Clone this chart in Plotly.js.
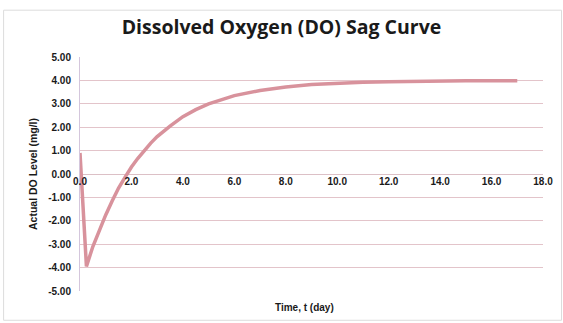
<!DOCTYPE html>
<html>
<head>
<meta charset="utf-8">
<script src="https://cdn.plot.ly/plotly-3.0.1.min.js"></script>
<style>html,body{margin:0;padding:0;background:#fff;}#chart{width:563px;height:323px;}</style>
</head>
<body>
<div id="chart"></div>
<script>
var timeDays = [0, 0.25, 0.5, 0.75, 1.0, 1.25, 1.5, 1.75, 2.0, 2.25, 2.5, 2.75, 3.0, 3.5, 4.0, 4.5, 5.0, 5.5, 6.0, 7.0, 8.0, 9.0, 10.0, 11.0, 12.0, 13.0, 14.0, 15.0, 16.0, 17.0];
var doLevel = [0.9, -3.95, -3.1, -2.4, -1.75, -1.15, -0.6, -0.14, 0.3, 0.67, 1.0, 1.32, 1.6, 2.05, 2.45, 2.75, 3.0, 3.19, 3.35, 3.57, 3.72, 3.82, 3.88, 3.92, 3.94, 3.96, 3.97, 3.98, 3.98, 3.99];
var xTicks = [0, 2, 4, 6, 8, 10, 12, 14, 16, 18];
var xTickText = ["0.0", "2.0", "4.0", "6.0", "8.0", "10.0", "12.0", "14.0", "16.0", "18.0"];
var yTicks = [5, 4, 3, 2, 1, 0, -1, -2, -3, -4, -5];
var yTickText = ["5.00", "4.00", "3.00", "2.00", "1.00", "0.00", "-1.00", "-2.00", "-3.00", "-4.00", "-5.00"];

var fontFam = '"Liberation Sans", Arial, sans-serif';
var trace = {
  x: timeDays, y: doLevel, type: 'scatter', mode: 'lines',
  line: {color: '#d8929c', width: 3.5, shape: 'linear'},
  hoverinfo: 'skip'
};
var layout = {
  width: 563, height: 323,
  margin: {l: 80, r: 20, t: 57, b: 32},
  paper_bgcolor: '#ffffff', plot_bgcolor: '#ffffff',
  showlegend: false,
  title: {text: '<b>Dissolved Oxygen (DO) Sag Curve</b>', x: 0.5, xanchor: 'center', y: 0.915, yanchor: 'middle',
          font: {family: '"Open Sans", sans-serif', size: 19.5, color: '#1a1a1a'}},
  xaxis: {
    range: [0, 18], tickvals: xTicks, ticktext: xTickText,
    anchor: 'free', position: 0.5,
    showgrid: false, zeroline: false, showline: false, ticks: '',
    tickfont: {family: fontFam, size: 10, color: '#1a1a1a', weight: 'bold'},
    fixedrange: true
  },
  yaxis: {
    range: [-5, 5], tickvals: yTicks, ticktext: yTickText,
    showgrid: true, gridcolor: '#e3c4ca', gridwidth: 1,
    zeroline: true, zerolinecolor: '#dcc0c6', zerolinewidth: 1,
    showline: true, linecolor: '#d4c6dc', linewidth: 1,
    ticks: '', ticklabelstandoff: 6,
    tickfont: {family: fontFam, size: 10, color: '#1a1a1a', weight: 'bold'},
    title: {text: '<b>Actual DO Level (mg/l)</b>', standoff: 8, font: {family: fontFam, size: 10.5, color: '#1a1a1a'}},
    fixedrange: true
  },
  annotations: [{
    text: '<b>Time, t (day)</b>', xref: 'paper', yref: 'paper', x: 0.485, y: -0.04, xanchor: 'center', yanchor: 'top',
    showarrow: false, font: {family: fontFam, size: 10, color: '#1a1a1a'}
  }],
  shapes: [{type: 'rect', xref: 'paper', yref: 'paper', x0: -0.165, x1: 1.04, y0: -0.125, y1: 1.2,
            line: {color: '#dcdcdc', width: 1}}]
};
Plotly.newPlot('chart', [trace], layout, {displayModeBar: false, staticPlot: true});
</script>
</body>
</html>
